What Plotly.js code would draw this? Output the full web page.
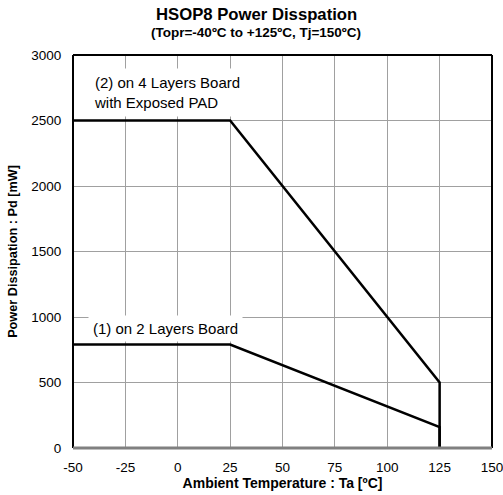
<!DOCTYPE html>
<html><head><meta charset="utf-8">
<script src="https://cdn.plot.ly/plotly-3.0.1.min.js"></script>
<style>body{margin:0;background:#fff}#c{width:503px;height:495px}</style>
</head><body><div id="c"></div>
<script>
const tempX = [-50, 25, 125, 125];
const board4 = [2500, 2500, 500, 0];
const board2 = [790, 790, 160, 0];
const xTicks = [-50, -25, 0, 25, 50, 75, 100, 125, 150];
const yTicks = [0, 500, 1000, 1500, 2000, 2500, 3000];
const F = '"Liberation Sans", Arial, sans-serif';

const traces = [
  {x: tempX, y: board4, mode: 'lines', line: {color: '#000', width: 2.5}, hoverinfo: 'skip'},
  {x: tempX, y: board2, mode: 'lines', line: {color: '#000', width: 2.5}, hoverinfo: 'skip'}
];
const layout = {
  width: 503, height: 495,
  margin: {l: 73, r: 11, t: 55, b: 47},
  paper_bgcolor: '#fff', plot_bgcolor: '#fff',
  showlegend: false,
  font: {family: F, color: '#000', size: 13},
  xaxis: {range: [-50, 150], tickvals: xTicks, ticktext: xTicks.map(String), showgrid: true,
    gridcolor: '#a0a0a0', gridwidth: 1, zeroline: false, showline: false, ticks: 'outside', ticklen: 7, tickcolor: 'rgba(0,0,0,0)',
    tickfont: {size: 13.5, family: F}, ticklabeloverflow: 'allow',
    title: {text: '<b>Ambient Temperature : Ta [ºC]</b>', font: {size: 14, family: F}, standoff: 2}, fixedrange: true},
  yaxis: {range: [0, 3000], tickvals: yTicks, ticktext: yTicks.map(String), showgrid: true,
    gridcolor: '#a0a0a0', gridwidth: 1, zeroline: false, showline: false, ticks: 'outside', ticklen: 8, tickcolor: 'rgba(0,0,0,0)',
    tickfont: {size: 13.5, family: F}, ticklabeloverflow: 'allow',
    title: {text: '<b>Power Dissipation : Pd [mW]</b>', font: {size: 12.7, family: F}, standoff: 10}, fixedrange: true},
  shapes: [
    {type: 'line', xref: 'paper', yref: 'paper', x0: 0, x1: 1, y0: 1, y1: 1, line: {color: '#000', width: 2}},
    {type: 'line', xref: 'paper', yref: 'paper', x0: 0, x1: 0, y0: 0, y1: 1, line: {color: '#000', width: 2}},
    {type: 'line', xref: 'paper', yref: 'paper', x0: 1, x1: 1, y0: 0, y1: 1, line: {color: '#000', width: 2}},
    {type: 'line', xref: 'paper', yref: 'paper', x0: 0, x1: 1, y0: 0, y1: 0, line: {color: '#808080', width: 3}}
  ],
  annotations: [
    {x: 0.437, y: 1.102, xref: 'paper', yref: 'paper', xanchor: 'center', yanchor: 'middle', showarrow: false,
      text: '<b>HSOP8 Power Disspation</b>', font: {size: 16.7, family: F}},
    {x: 0.437, y: 1.0585, xref: 'paper', yref: 'paper', xanchor: 'center', yanchor: 'middle', showarrow: false,
      text: '<b>(Topr=-40ºC to +125ºC, Tj=150ºC)</b>', font: {size: 13.5, family: F}},
    {x: -43, y: 2714, xref: 'x', yref: 'y', xanchor: 'left', yanchor: 'middle', align: 'left', showarrow: false,
      text: '(2) on 4 Layers Board<br>with Exposed PAD', font: {size: 15, family: F}, bgcolor: '#fff', borderpad: 5},
    {x: -43, y: 916, xref: 'x', yref: 'y', xanchor: 'left', yanchor: 'middle', align: 'left', showarrow: false,
      text: '(1) on 2 Layers Board', font: {size: 15, family: F}, bgcolor: '#fff', borderpad: 4}
  ]
};
Plotly.newPlot('c', traces, layout, {displayModeBar: false, staticPlot: true});
</script></body></html>
